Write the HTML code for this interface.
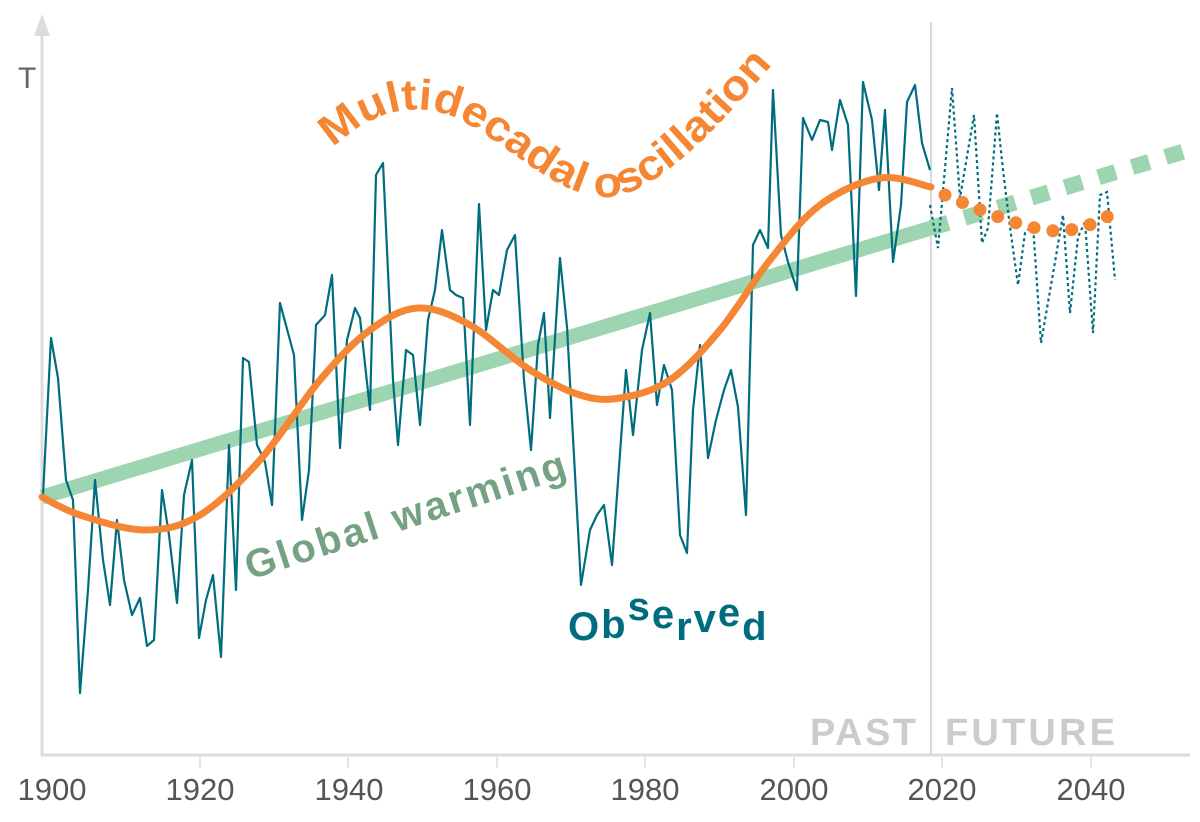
<!DOCTYPE html>
<html><head><meta charset="utf-8"><style>
html,body{margin:0;padding:0;background:#fff}
svg{display:block}
text{font-family:"Liberation Sans",sans-serif}
</style></head><body>
<svg width="1200" height="822" viewBox="0 0 1200 822" xmlns="http://www.w3.org/2000/svg">
<line x1="42" y1="30" x2="42" y2="756" stroke="#dcdcdc" stroke-width="3"/>
<polygon points="42,14 34,36 50,36" fill="#dcdcdc"/>
<line x1="41" y1="755" x2="1190" y2="755" stroke="#dcdcdc" stroke-width="3"/>
<line x1="931" y1="22" x2="931" y2="755" stroke="#d8d8d8" stroke-width="2"/>
<g stroke="#dcdcdc" stroke-width="1.5">
<line x1="200" y1="757" x2="200" y2="768"/><line x1="348" y1="757" x2="348" y2="768"/><line x1="497" y1="757" x2="497" y2="768"/><line x1="645" y1="757" x2="645" y2="768"/><line x1="794" y1="757" x2="794" y2="768"/><line x1="942" y1="757" x2="942" y2="768"/><line x1="1091" y1="757" x2="1091" y2="768"/>
</g>
<text x="18" y="88" font-size="30" fill="#666">T</text>
<g font-size="31" fill="#555" text-anchor="middle">
<text x="52" y="800">1900</text><text x="200" y="800">1920</text><text x="349" y="800">1940</text><text x="497" y="800">1960</text><text x="645" y="800">1980</text><text x="794" y="800">2000</text><text x="942" y="800">2020</text><text x="1091" y="800">2040</text>
</g>
<text x="810" y="745" font-size="38" font-weight="bold" fill="#cccccc" textLength="106">PAST</text>
<text x="945" y="745" font-size="38" font-weight="bold" fill="#cccccc" textLength="170">FUTURE</text>

<line x1="42" y1="497" x2="931" y2="228" stroke="#9dd5b1" stroke-width="15"/>
<line x1="931" y1="228" x2="1192" y2="149" stroke="#9dd5b1" stroke-width="16" stroke-dasharray="18 17"/>

<polyline fill="none" stroke="#006d7f" stroke-width="2.2" stroke-linejoin="round" points="43,495 51,338 58,378 66,480 73,500 80,693 88,590 95,480 103,560 110,605 117,520 124,580 132,615 140,598 147,646 154,640 162,490 169,535 177,603 184,495 192,460 199,638 206,600 213,575 221,657 229,445 236,590 243,358 249,362 257,445 265,462 272,505 280,303 294,355 302,520 309,470 316,325 325,315 332,275 340,448 347,340 355,308 360,318 370,410 376,175 383,163 393,380 398,445 406,350 413,355 420,425 428,320 435,290 442,230 450,290 456,295 463,298 470,425 479,204 486,330 493,290 499,295 507,250 515,235 524,380 531,450 538,345 544,313 550,418 560,258 567,327 581,585 590,530 597,515 604,505 612,565 626,370 633,435 642,350 650,313 657,405 664,365 672,390 680,535 687,553 693,410 700,345 708,458 716,420 724,390 731,370 738,407 746,515 753,245 760,230 768,248 773,90 781,235 788,262 797,290 803,118 812,140 820,120 828,122 832,150 840,100 848,125 856,296 863,82 872,120 879,190 885,110 893,262 901,205 907,102 915,85 922,143 930,170"/>
<polyline fill="none" stroke="#006d7f" stroke-width="2.2" stroke-dasharray="3 3" points="930,205 938,248 952,88 960,198 974,115 982,243 988,228 997,113 1003,170 1010,227 1018,285 1025,233 1033,225 1041,343 1055,262 1063,215 1070,313 1078,237 1085,222 1093,333 1100,195 1107,192 1115,280"/>

<path id="osc" fill="none" stroke="#f58634" stroke-width="7" stroke-linecap="round" d=""/>
<path fill="none" stroke="#f58634" stroke-width="13" stroke-linecap="round" stroke-dasharray="0 19" d="M945,195 C980,210 1020,228 1055,231 C1080,231 1100,222 1118,210"/>

<path id="mtp" fill="none" d="M333,148 C375,108 420,100 460,120 C510,145 560,200 610,197 C660,192 720,125 778,58"/>
<text id="mt" font-size="43" font-weight="bold" fill="#f58634"><textPath href="#mtp" lengthAdjust="spacingAndGlyphs" textLength="560">Multidecadal oscillation</textPath></text>
<text x="0" y="0" font-size="40" font-weight="bold" fill="#74a283" transform="translate(250,580) rotate(-18)" textLength="335" lengthAdjust="spacing">Global warming</text>
<text x="568" y="640" font-size="40" font-weight="bold" fill="#006d7f" letter-spacing="2">O<tspan dy="-2">b</tspan><tspan dy="-18">s</tspan><tspan dy="8">e</tspan><tspan dy="12">r</tspan><tspan dy="-8">v</tspan><tspan dy="-6">e</tspan><tspan dy="14">d</tspan></text>
</svg>
<script>
(function(){
var p=[[42,497],[80,515],[145,530],[200,515],[260,460],[320,380],[370,330],[418,308],[470,325],[530,370],[580,395],[620,398],[670,380],[720,330],[770,260],[820,205],[880,178],[931,187]];
var d="M"+p[0][0]+","+p[0][1];
for(var i=0;i<p.length-1;i++){
var p0=p[i-1]||p[i],p1=p[i],p2=p[i+1],p3=p[i+2]||p2;
var c1=[p1[0]+(p2[0]-p0[0])/6,p1[1]+(p2[1]-p0[1])/6];
var c2=[p2[0]-(p3[0]-p1[0])/6,p2[1]-(p3[1]-p1[1])/6];
d+=" C"+c1[0]+","+c1[1]+" "+c2[0]+","+c2[1]+" "+p2[0]+","+p2[1];
}
document.getElementById("osc").setAttribute("d",d);
try{var L=document.getElementById("mtp").getTotalLength();
document.querySelector("#mt textPath").setAttribute("textLength",Math.floor(L-8));}catch(e){}
})();
</script>
</body></html>
